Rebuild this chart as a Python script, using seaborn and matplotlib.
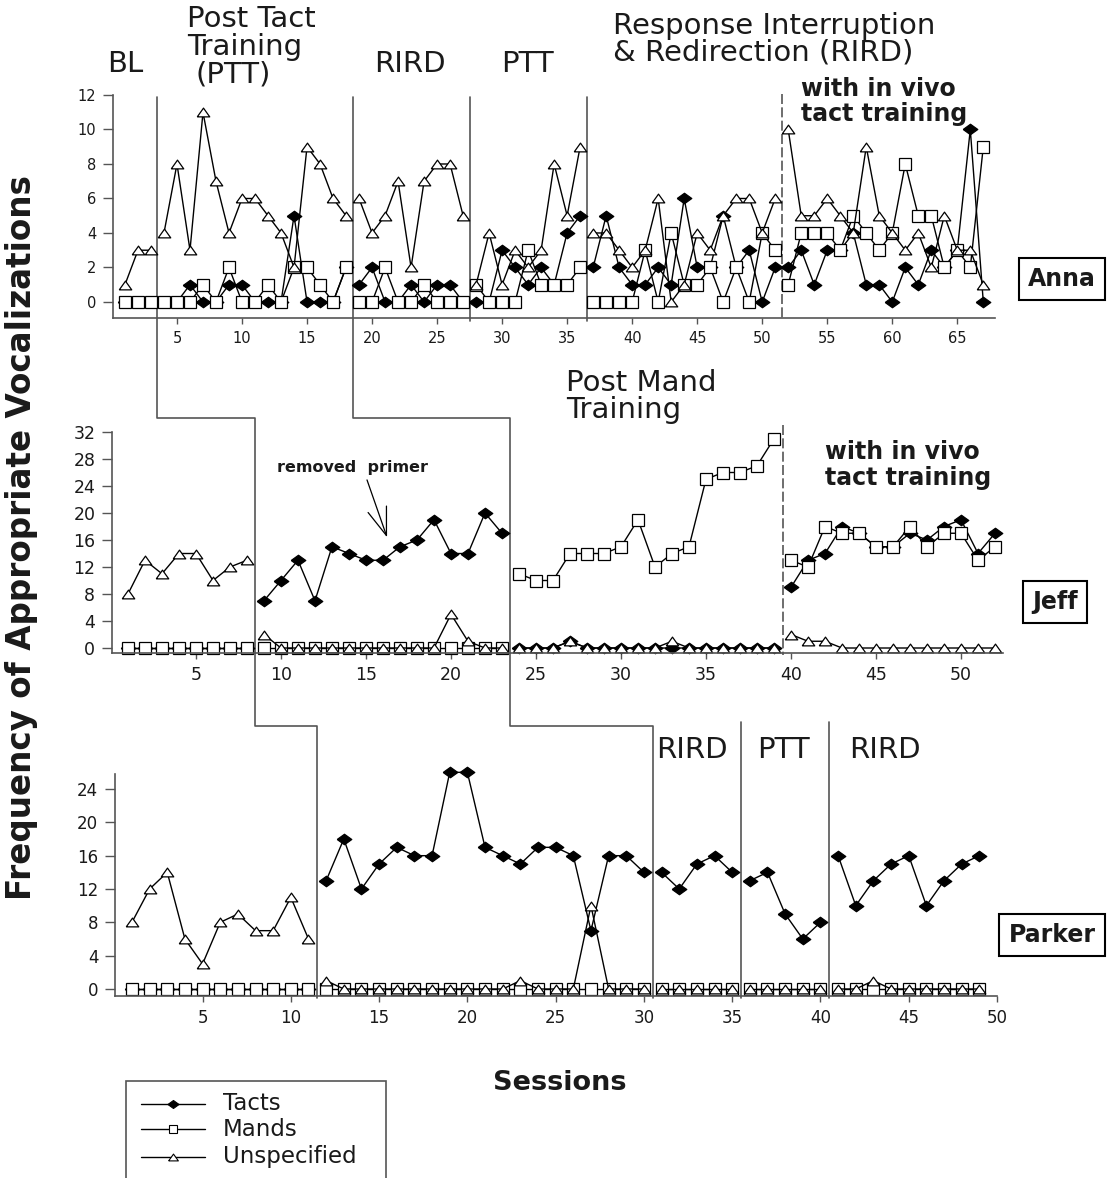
import numpy as np
import pandas as pd
import matplotlib
matplotlib.use('Agg')
import matplotlib.pyplot as plt
import seaborn as sns
from matplotlib.lines import Line2D
from matplotlib.patches import Rectangle

sns.set_style('ticks')
plt.rcParams['font.family'] = ['DejaVu Sans']

# Session-by-session counts (session 1 first)
anna_tacts = [0, 0, 0, 0, 0,
              1, 0, 0, 1, 1, 0, 0, 0, 5, 0, 0, 0, 2,
              1, 2, 0, 0, 1, 0, 1, 1, 0,
              0, 0, 3, 2, 1, 2, 1, 4, 5,
              2, 5, 2, 1, 1, 2, 1, 6, 2, 2, 5, 2, 3, 0, 2,
              2, 3, 1, 3, 3, 4, 1, 1, 0, 2, 1, 3, 2, 3, 10, 0]
anna_mands = [0, 0, 0, 0, 0,
              0, 1, 0, 2, 0, 0, 1, 0, 2, 2, 1, 0, 2,
              0, 0, 2, 0, 0, 1, 0, 0, 0,
              1, 0, 0, 0, 3, 1, 1, 1, 2,
              0, 0, 0, 0, 3, 0, 4, 1, 1, 2, 0, 2, 0, 4, 3,
              1, 4, 4, 4, 3, 5, 4, 3, 4, 8, 5, 5, 2, 3, 2, 9]
anna_unspec = [1, 3, 3, 4, 8,
               3, 11, 7, 4, 6, 6, 5, 4, 2, 9, 8, 6, 5,
               6, 4, 5, 7, 2, 7, 8, 8, 5,
               1, 4, 1, 3, 2, 3, 8, 5, 9,
               4, 4, 3, 2, 3, 6, 0, 1, 4, 3, 5, 6, 6, 4, 6,
               10, 5, 5, 6, 5, 4, 9, 5, 4, 3, 4, 2, 5, 3, 3, 1]
anna_phase_starts = [1, 4, 19, 28, 37, 52]

jeff_tacts = [0, 0, 0, 0, 0, 0, 0, 0,
              7, 10, 13, 7, 15, 14, 13, 13, 15, 16, 19, 14, 14, 20, 17,
              0, 0, 0, 1, 0, 0, 0, 0, 0, 0, 0, 0, 0, 0, 0, 0,
              9, 13, 14, 18, 17, 15, 15, 17, 16, 18, 19, 14, 17]
jeff_mands = [0, 0, 0, 0, 0, 0, 0, 0,
              0, 0, 0, 0, 0, 0, 0, 0, 0, 0, 0, 0, 0, 0, 0,
              11, 10, 10, 14, 14, 14, 15, 19, 12, 14, 15, 25, 26, 26, 27, 31,
              13, 12, 18, 17, 17, 15, 15, 18, 15, 17, 17, 13, 15]
jeff_unspec = [8, 13, 11, 14, 14, 10, 12, 13,
               2, 0, 0, 0, 0, 0, 0, 0, 0, 0, 0, 5, 1, 0, 0,
               0, 0, 0, 1, 0, 0, 0, 0, 0, 1, 0, 0, 0, 0, 0, 0,
               2, 1, 1, 0, 0, 0, 0, 0, 0, 0, 0, 0, 0]
jeff_phase_starts = [1, 9, 24, 40]

parker_tacts = [0, 0, 0, 0, 0, 0, 0, 0, 0, 0, 0,
                13, 18, 12, 15, 17, 16, 16, 26, 26, 17, 16, 15, 17, 17, 16, 7, 16, 16, 14,
                14, 12, 15, 16, 14,
                13, 14, 9, 6, 8,
                16, 10, 13, 15, 16, 10, 13, 15, 16]
parker_mands = [0, 0, 0, 0, 0, 0, 0, 0, 0, 0, 0,
                0, 0, 0, 0, 0, 0, 0, 0, 0, 0, 0, 0, 0, 0, 0, 0, 0, 0, 0,
                0, 0, 0, 0, 0,
                0, 0, 0, 0, 0,
                0, 0, 0, 0, 0, 0, 0, 0, 0]
parker_unspec = [8, 12, 14, 6, 3, 8, 9, 7, 7, 11, 6,
                 1, 0, 0, 0, 0, 0, 0, 0, 0, 0, 0, 1, 0, 0, 0, 10, 0, 0, 0,
                 0, 0, 0, 0, 0,
                 0, 0, 0, 0, 0,
                 0, 0, 1, 0, 0, 0, 0, 0, 0]
parker_phase_starts = [1, 12, 31, 36, 41]

legend_labels = ['Tacts', 'Mands', 'Unspecified']

W, H = 1120, 1178
GREY = '#555555'
fig = plt.figure(figsize=(W / 100, H / 100), dpi=100)

DIAMOND = [(-1, 0), (0, 0.72), (1, 0), (0, -0.72), (-1, 0)]
TRIANGLE = [(-1, -0.7), (1, -0.7), (0, 0.7), (-1, -0.7)]


def put(x, y, s, **kw):
    kw.setdefault('va', 'baseline')
    kw.setdefault('color', '#1a1a1a')
    return fig.text(x / W, 1 - y / H, s, **kw)


def make_axes(left, top, right, bottom, xlim, ylim, xticks, yticks, size):
    ax = fig.add_axes([left / W, 1 - bottom / H, (right - left) / W, (bottom - top) / H])
    ax.set_xlim(*xlim)
    ax.set_ylim(*ylim)
    ax.set_xticks(list(xticks))
    ax.set_yticks(list(yticks))
    sns.despine(ax=ax)
    for side in ['left', 'bottom']:
        ax.spines[side].set_color(GREY)
        ax.spines[side].set_linewidth(1.2)
    ax.tick_params(axis='x', direction='out', length=4, width=1, color=GREY,
                   labelsize=size, labelcolor='#1a1a1a', pad=5.5)
    ax.tick_params(axis='y', direction='out', length=7, width=1, color=GREY,
                   labelsize=size, labelcolor='#1a1a1a', pad=5)
    ax.patch.set_visible(False)
    return ax


def draw_series(ax, values, starts, marker, ms, face):
    df = pd.DataFrame({'session': np.arange(1, len(values) + 1), 'value': values})
    df['phase'] = np.searchsorted(starts, df['session'], side='right')
    sns.lineplot(data=df, x='session', y='value', units='phase', estimator=None,
                 color='black', linewidth=1, marker=marker, markersize=ms,
                 markerfacecolor=face, markeredgecolor='black', markeredgewidth=0.9,
                 clip_on=False, legend=False, ax=ax)
    ax.set_xlabel('')
    ax.set_ylabel('')


def draw_case(ax, tacts, mands, unspec, starts):
    draw_series(ax, tacts, starts, DIAMOND, 10.5, 'black')
    draw_series(ax, mands, starts, 's', 8, 'white')
    draw_series(ax, unspec, starts, TRIANGLE, 9, 'white')


ax_a = make_axes(113, 95, 995, 318, (0.08, 67.9), (-0.93, 12),
                 range(5, 66, 5), range(0, 13, 2), 10.5)
ax_j = make_axes(112, 432, 1003, 653, (0.06, 52.47), (-0.74, 32),
                 range(5, 51, 5), range(0, 33, 4), 12.5)
ax_p = make_axes(115, 774, 997, 996, (0.04, 50.0), (-0.84, 25.8),
                 range(5, 51, 5), range(0, 25, 4), 12)

draw_case(ax_a, anna_tacts, anna_mands, anna_unspec, anna_phase_starts)
draw_case(ax_j, jeff_tacts, jeff_mands, jeff_unspec, jeff_phase_starts)
draw_case(ax_p, parker_tacts, parker_mands, parker_unspec, parker_phase_starts)


# phase change lines (figure level so the steps can cross panels)
def fx(ax, s):
    return ax.transData.transform((s, 0))[0] / W


def fig_line(xs, ys, dashed=False):
    fig.add_artist(Line2D(xs, [1 - y / H for y in ys], transform=fig.transFigure,
                          color=GREY, lw=1.2, ls=(0, (6, 2)) if dashed else '-',
                          zorder=-1))


a_b = [s - 0.5 for s in anna_phase_starts[1:]]
j_b = [s - 0.5 for s in jeff_phase_starts[1:]]
p_b = [s - 0.5 for s in parker_phase_starts[1:]]

for k in range(2):
    xa, xj, xp = fx(ax_a, a_b[k]), fx(ax_j, j_b[k]), fx(ax_p, p_b[k])
    fig_line([xa, xa, xj, xj, xp, xp], [97, 418, 418, 726, 726, 998])
for s in a_b[2:4]:
    fig_line([fx(ax_a, s)] * 2, [97, 321])
fig_line([fx(ax_a, a_b[4])] * 2, [94, 318], dashed=True)
fig_line([fx(ax_j, j_b[2])] * 2, [425, 655], dashed=True)
for s in p_b[2:]:
    fig_line([fx(ax_p, s)] * 2, [722, 998])

# phase labels
PH = dict(fontsize=21)
put(107, 72, 'BL', **PH)
put(187, 27, 'Post Tact', **PH)
put(187, 55, 'Training', **PH)
put(196, 83, '(PTT)', **PH)
put(374, 72, 'RIRD', **PH)
put(501, 72, 'PTT', **PH)
put(613, 34, 'Response Interruption', **PH)
put(613, 61, '& Redirection (RIRD)', **PH)
put(566, 391, 'Post Mand', **PH)
put(566, 418, 'Training', **PH)
put(656, 758, 'RIRD', **PH)
put(757, 758, 'PTT', **PH)
put(849, 758, 'RIRD', **PH)

BOLD = dict(fontsize=17, fontweight='bold')
put(801, 96, 'with in vivo', **BOLD)
put(801, 121, 'tact training', **BOLD)
put(825, 459, 'with in vivo', **BOLD)
put(825, 485, 'tact training', **BOLD)

put(277, 472, 'removed  primer', fontsize=11.5, fontweight='bold')
ax_j.annotate('', xy=(16.24, 16.4), xytext=(15.06, 24.9),
              arrowprops=dict(arrowstyle='->,head_length=1.0,head_width=0.35',
                              lw=0.9, color='black', mutation_scale=20,
                              shrinkA=0, shrinkB=0))

# participant name boxes
for name, (x, y) in zip(['Anna', 'Jeff', 'Parker'], [(1062, 279), (1055, 602), (1052, 935)]):
    fig.text(x / W, 1 - y / H, name, ha='center', va='center', fontsize=17,
             fontweight='bold', color='#1a1a1a',
             bbox=dict(boxstyle='square,pad=0.4', fc='white', ec='black', lw=1.5))

fig.text(22 / W, 1 - 538 / H, 'Frequency of Appropriate Vocalizations', rotation=90,
         ha='center', va='center', fontsize=23.5, fontweight='bold', color='#1a1a1a')
put(560, 1090, 'Sessions', ha='center', fontsize=19.5, fontweight='bold')

# legend
fig.add_artist(Rectangle((125.7 / W, 1 - 1200 / H), 260 / W, (1200 - 1080.7) / H,
                         transform=fig.transFigure, fill=False, ec=GREY, lw=1.2))
leg_styles = [(DIAMOND, 8, 'black'), ('s', 5.5, 'white'), (TRIANGLE, 7, 'white')]
for label, (m, ms, face), y in zip(legend_labels, leg_styles, [1104, 1129, 1156.5]):
    fig.add_artist(Line2D([141 / W, 173 / W, 205 / W], [1 - y / H] * 3,
                          transform=fig.transFigure, color='black', lw=1,
                          marker=m, markersize=ms, markevery=[1],
                          markerfacecolor=face, markeredgecolor='black',
                          markeredgewidth=0.8))
    put(223, y, label, va='center', fontsize=16.5)

fig.savefig('out.png', dpi=100)
